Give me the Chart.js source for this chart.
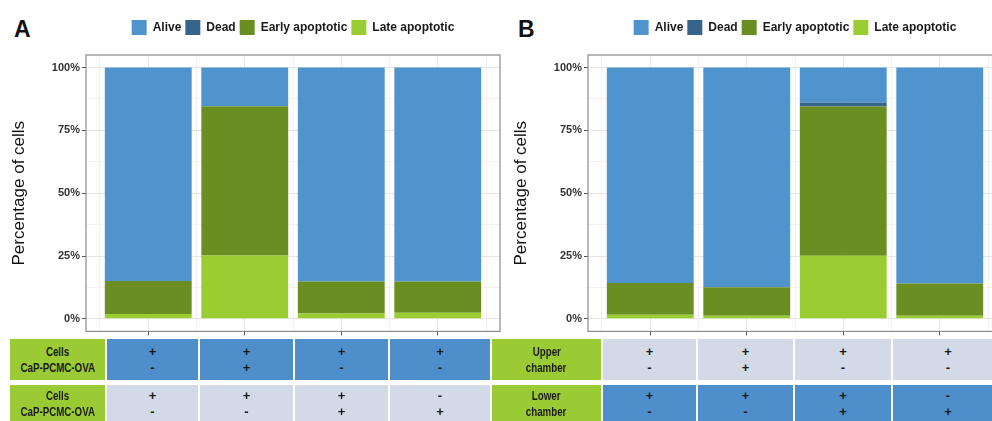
<!DOCTYPE html>
<html>
<head>
<meta charset="utf-8">
<script src="https://cdn.jsdelivr.net/npm/chart.js@4.4.1/dist/chart.umd.min.js"></script>
<style>
  html, body { margin: 0; padding: 0; background: #fff; width: 992px; height: 421px; overflow: hidden; }
  body { position: relative; }
  canvas { position: absolute; top: 0; }
  .letra { position: absolute; top: 18px; font: bold 23px/23px "Liberation Sans", Arial, sans-serif; color: #111; }
  .cel {
    position: absolute; display: flex; flex-direction: column; align-items: center; justify-content: center;
    font: bold 13px/16px "Liberation Sans", Arial, sans-serif; color: #1a1a1a;
  }
  .cel span { display: inline-block; white-space: nowrap; }
  .cel.rotulo span { transform: scaleX(0.75); }
</style>
</head>
<body>
<div class="letra" style="left:14px">A</div>
<div class="letra" style="left:518px">B</div>
<canvas id="graficoA" width="505" height="340" style="left:0"></canvas>
<canvas id="graficoB" width="500" height="340" style="left:502px"></canvas>
<div id="tabela"></div>
<script>
// Categorias (posição das barras no eixo x)
const categorias = [1, 2, 3, 4];
const rotulosLegenda = ['Alive', 'Dead', 'Early apoptotic', 'Late apoptotic'];
const cores = ['#4F94CD', '#36648B', '#6B8E23', '#9ACD32'];

// Painel A - percentagem de células
const vivasA = [84.9, 15.4, 85.1, 85.1];
const mortasA = [0, 0, 0, 0];
const apoptoseInicialA = [13.2, 59.4, 12.8, 12.5];
const apoptoseTardiaA = [1.9, 25.2, 2.1, 2.4];

// Painel B - percentagem de células
const vivasB = [85.7, 87.4, 13.9, 85.9];
const mortasB = [0, 0, 1.6, 0];
const apoptoseInicialB = [12.7, 11.4, 59.4, 12.9];
const apoptoseTardiaB = [1.6, 1.2, 25.1, 1.2];

// Marcas dos eixos (principais e secundárias)
const ticksY = [0, 12.5, 25, 37.5, 50, 62.5, 75, 87.5, 100];
const ticksX = [0.5, 1, 1.5, 2, 2.5, 3, 3.5, 4, 4.5];

// Tabela abaixo dos gráficos
const rotulosTabelaA = [['Cells', 'CaP-PCMC-OVA'], ['Cells', 'CaP-PCMC-OVA']];
const rotulosTabelaB = [['Upper', 'chamber'], ['Lower', 'chamber']];
const sinaisLinha1 = [['+', '-'], ['+', '+'], ['+', '-'], ['+', '-']];
const sinaisLinha2 = [['+', '-'], ['+', '-'], ['+', '+'], ['-', '+']];

const fonte = '"Liberation Sans", Arial, sans-serif';

// Moldura cinza em volta da área do gráfico
const bordaPainel = {
  id: 'bordaPainel',
  afterDatasetsDraw(chart) {
    const { ctx, chartArea: a } = chart;
    ctx.save();
    ctx.strokeStyle = '#8c8c8c';
    ctx.lineWidth = 1.2;
    ctx.strokeRect(a.left, a.top, a.right - a.left, a.bottom - a.top);
    ctx.restore();
  }
};

function criarDatasets(vivas, mortas, inicial, tardia) {
  // de baixo para cima: tardia, inicial, mortas, vivas
  const series = [tardia, inicial, mortas, vivas];
  const indices = [3, 2, 1, 0];
  return series.map((s, i) => ({
    label: rotulosLegenda[indices[i]],
    data: categorias.map((c, j) => ({ x: c, y: s[j] })),
    backgroundColor: cores[indices[i]],
    borderWidth: 0,
    // ticks a cada 0.5 -> largura da barra = 0.9 unidade
    barPercentage: 1.8,
    categoryPercentage: 1
  }));
}

function criarConfiguracao(datasets, direita) {
  return {
    type: 'bar',
    data: { datasets: datasets },
    plugins: [bordaPainel],
    options: {
      responsive: false,
      devicePixelRatio: 1,
      animation: false,
      layout: { padding: { top: 16, right: direita, left: 0, bottom: 0 } },
      plugins: {
        legend: {
          position: 'top',
          fullSize: false,
          reverse: true,
          labels: {
            boxWidth: 15,
            boxHeight: 15,
            padding: 4,
            color: '#1a1a1a',
            font: { family: fonte, size: 12, weight: 'bold' }
          }
        },
        tooltip: { enabled: false }
      },
      scales: {
        x: {
          type: 'linear',
          position: 'bottom',
          min: 0.355,
          max: 4.645,
          offset: false,
          stacked: true,
          afterBuildTicks: s => { s.ticks = ticksX.map(v => ({ value: v })); },
          afterFit: s => { s.height = 8; },
          ticks: { display: false },
          grid: {
            offset: false,
            color: c => (c.tick && c.tick.value % 1 === 0) ? '#e6e6e6' : '#f2f2f2',
            tickColor: c => (c.tick && c.tick.value % 1 === 0) ? '#555' : 'rgba(0,0,0,0)',
            tickLength: 4
          },
          border: { display: false }
        },
        espaco: {
          type: 'linear',
          position: 'top',
          ticks: { display: false },
          grid: { display: false },
          border: { display: false },
          afterFit: s => { s.height = 10; }
        },
        y: {
          min: -5,
          max: 105,
          stacked: true,
          afterBuildTicks: s => { s.ticks = ticksY.map(v => ({ value: v })); },
          afterFit: s => { s.width = 86; },
          ticks: {
            callback: v => (v % 25 === 0 ? v + '%' : ''),
            color: '#333',
            padding: 2,
            font: { family: fonte, size: 11, weight: 'bold' }
          },
          grid: {
            color: c => (c.tick && c.tick.value % 25 === 0) ? '#e6e6e6' : '#f2f2f2',
            tickColor: c => (c.tick && c.tick.value % 25 === 0) ? '#555' : 'rgba(0,0,0,0)',
            tickLength: 4
          },
          border: { display: false },
          title: {
            display: true,
            text: 'Percentage of cells',
            color: '#111',
            padding: { top: 9, bottom: 0 },
            font: { family: fonte, size: 17 }
          }
        }
      }
    }
  };
}

new Chart(document.getElementById('graficoA'),
  criarConfiguracao(criarDatasets(vivasA, mortasA, apoptoseInicialA, apoptoseTardiaA), 5));
new Chart(document.getElementById('graficoB'),
  criarConfiguracao(criarDatasets(vivasB, mortasB, apoptoseInicialB, apoptoseTardiaB), 0));

// Tabela de condições
const AZUL = '#4e8fcb', CINZA = '#d2d9e7', VERDE = '#9acb34';
const linhasTopo = [339, 385], linhasAltura = [41, 38];

function celula(esq, larg, topo, alt, cor, textos, classe) {
  const d = document.createElement('div');
  d.className = 'cel' + (classe ? ' ' + classe : '');
  d.style.cssText = `left:${esq}px;width:${larg}px;top:${topo}px;height:${alt}px;background:${cor}`;
  textos.forEach(t => { const s = document.createElement('span'); s.textContent = t; d.appendChild(s); });
  document.getElementById('tabela').appendChild(d);
}

function montarBloco(rotuloEsq, rotuloLarg, colunas, rotulos, coresLinhas) {
  [sinaisLinha1, sinaisLinha2].forEach((sinais, r) => {
    celula(rotuloEsq, rotuloLarg, linhasTopo[r], linhasAltura[r], VERDE, rotulos[r], 'rotulo');
    colunas.forEach(([esq, larg], k) => celula(esq, larg, linhasTopo[r], linhasAltura[r], coresLinhas[r], sinais[k]));
  });
}

montarBloco(10, 95, [[107, 91], [200, 93], [295, 93], [390, 100]], rotulosTabelaA, [AZUL, CINZA]);
montarBloco(492, 109, [[603, 93], [698, 95], [795, 96], [893, 110]], rotulosTabelaB, [CINZA, AZUL]);
</script>
</body>
</html>
